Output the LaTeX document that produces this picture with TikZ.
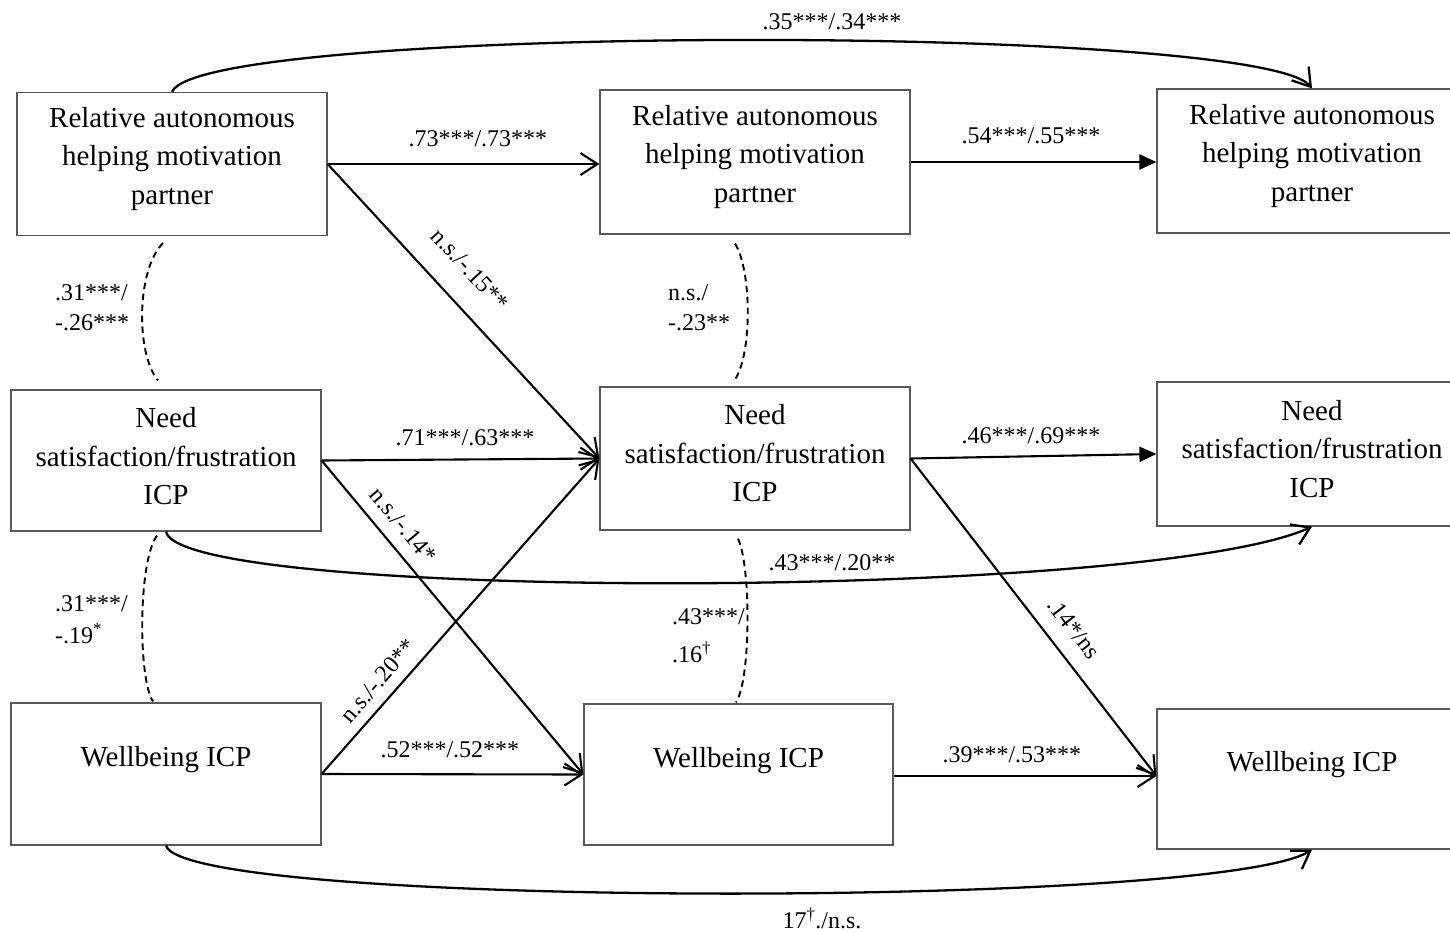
\documentclass[tikz,border=0pt]{standalone}
\usepackage{fontspec}
\setmainfont{Liberation Serif}
\usetikzlibrary{arrows.meta,calc}
\begin{document}
\begin{tikzpicture}[x=1pt,y=-1pt,
  box/.style={draw=black!65, line width=1.2pt, minimum width=310pt, minimum height=143pt, inner sep=0pt},
  boxtext/.style={align=center, font=\fontsize{29}{38.5}\selectfont, inner sep=0pt},
  lab/.style={font=\fontsize{24}{30}\selectfont, inner sep=2pt},
  stack/.style={font=\fontsize{24}{30}\selectfont, inner sep=0pt, align=left, anchor=west},
  conn/.style={line width=2.1pt, -{Straight Barb[length=17pt,width=22pt]}},
  connf/.style={line width=2.1pt, -{Triangle[length=17pt,width=15pt]}},
  curv/.style={line width=2.3pt, -{Straight Barb[length=17pt,width=22pt]}},
  corr/.style={line width=1.9pt, dash pattern=on 6.5pt off 4.5pt}]
\useasboundingbox (0,0) rectangle (1450,931);

% boxes
\node[box] (L1) at (172,164) {};
\node[box, minimum height=141pt] (L2) at (166,460.5) {};
\node[box, minimum height=142pt] (L3) at (166,774) {};
\node[box, minimum height=144pt] (M1) at (755,162) {};
\node[box] (M2) at (755,458.5) {};
\node[box, minimum width=309pt, minimum height=141pt] (M3) at (738.5,774.5) {};
\node[box, minimum height=144pt] (R1) at (1312,161) {};
\node[box, minimum height=144pt] (R2) at (1312,454) {};
\node[box, minimum height=140pt] (R3) at (1312,779) {};

% box texts
\node[boxtext] (L1t) at ([yshift=5pt]L1.center) {Relative autonomous\\helping motivation\\partner};
\node[boxtext] (L2t) at ([yshift=4pt]L2.center) {Need\\satisfaction/frustration\\ICP};
\node[boxtext] (L3t) at ([yshift=14pt]L3.center) {Wellbeing ICP};
\node[boxtext] (M1t) at ([yshift=5pt]M1.center) {Relative autonomous\\helping motivation\\partner};
\node[boxtext] (M2t) at ([yshift=5pt]M2.center) {Need\\satisfaction/frustration\\ICP};
\node[boxtext] (M3t) at ([yshift=14pt]M3.center) {Wellbeing ICP};
\node[boxtext] (R1t) at ([yshift=5pt]R1.center) {Relative autonomous\\helping motivation\\partner};
\node[boxtext] (R2t) at ([yshift=5pt]R2.center) {Need\\satisfaction/frustration\\ICP};
\node[boxtext] (R3t) at ([yshift=14pt]R3.center) {Wellbeing ICP};

% straight paths
\draw[conn] (L1.east) -- (L1.east -| M1.west) node[lab, pos=0.553, above=14pt] (a1) {.73***/.73***};
\draw[connf] (M1.east) -- (M1.east -| R1.west) node[lab, pos=0.49, above=15pt] (a2) {.54***/.55***};
\draw[conn] (L1.east) -- (M2.west) node[lab, sloped, pos=0.435, above=22pt] (a3) {n.s./-.15**};
\draw[conn] (L2.east) -- (M2.west) node[lab, pos=0.516, above=11pt] (a4) {.71***/.63***};
\draw[conn] (L2.east) -- (M3.west) node[lab, sloped, pos=0.25, above=10pt] (a5) {n.s./-.14*};
\draw[conn] (L3.east) -- (M2.west) node[lab, sloped, pos=0.255, above=8pt] (a6) {n.s./-.20**};
\draw[conn] (L3.east) -- (M3.west) node[lab, pos=0.49, above=13pt] (a7) {.52***/.52***};
\draw[connf] (M2.east) -- (R2.west) node[lab, pos=0.49, above=9pt] (a8) {.46***/.69***};
\draw[conn] (M2.east) -- ([yshift=3pt]R3.west) node[lab, sloped, pos=0.583, above=14pt] (a9) {.14*/ns};
\draw[conn] ([yshift=-1.5pt]M3.east) -- ([yshift=-1.5pt]M3.east -| R3.west) node[lab, pos=0.45, above=10pt] (a10) {.39***/.53***};

% curved paths
\draw[curv] (L1.north) .. controls +(28,-68) and +(-52,-65) .. (R1.north);
\node[lab] (c1) at (832,22) {.35***/.34***};
\draw[curv] (L2.south) .. controls +(14,70) and +(-162,74) .. (R2.south);
\node[lab] (c2) at (832,563) {.43***/.20**};
\draw[curv] (L3.south) .. controls +(19,63) and +(-92,59) .. (R3.south);
\node[lab] (c3) at (822,918) {17\textsuperscript{\textdagger}./n.s.};

% correlations (dashed)
\coordinate (d1a) at ($(L1.south)+(-9,7)$);
\coordinate (d1b) at ($(L2.north)+(-8,-9)$);
\draw[corr] (d1a) .. controls +(-27,27) and +(-22,-26) .. (d1b);
\node[stack] (s1) at (55,308) {.31***/\\-.26***};

\coordinate (d2a) at ($(M1.south)+(-20,9)$);
\coordinate (d2b) at ($(M2.north)+(-20,-7)$);
\draw[corr] (d2a) .. controls +(17,27) and +(17,-25) .. (d2b);
\node[stack] (s2) at (668,308) {n.s./\\-.23**};

\coordinate (d3a) at ($(L2.south)+(-9,4)$);
\coordinate (d3b) at ($(L3.north)+(-13,-1)$);
\draw[corr] (d3a) .. controls +(-19,25) and +(-15,-22) .. (d3b);
\node[stack] (s3) at (55,620) {.31***/\\[2pt]-.19\textsuperscript{*}};

\coordinate (d4a) at ($(M2.south)+(-17,8)$);
\coordinate (d4b) at ($(M3.north)+(-2.5,-1)$);
\draw[corr] (d4a) .. controls +(13,27) and +(15,-23) .. (d4b);
\node[stack] (s4) at (672,636) {.43***/\\[8pt].16\textsuperscript{\textdagger}};
\end{tikzpicture}
\end{document}
